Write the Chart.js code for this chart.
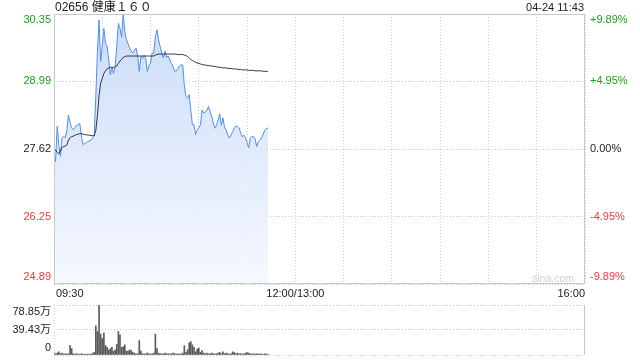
<!DOCTYPE html>
<html>
<head>
<meta charset="utf-8">
<script src="https://cdn.jsdelivr.net/npm/chart.js@4"></script>
<style>
  html,body{margin:0;padding:0;background:#fff;width:640px;height:360px;overflow:hidden;}
  canvas{position:absolute;left:0;}
  #main{top:0;}
  #vol{top:300px;}
</style>
</head>
<body>
<canvas id="main" width="640" height="300"></canvas>
<canvas id="vol" width="640" height="60"></canvas>
<script>
// ---- data ----
const titleText = '02656 健康１６０';
const dateText = '04-24 11:43';
const priceTicks = [30.35, 28.99, 27.62, 26.25, 24.89];
const pctTicks = ['+9.89%', '+4.95%', '0.00%', '-4.95%', '-9.89%'];
const xTickMinutes = [0, 150, 330];
const xTickLabels = ['09:30', '12:00/13:00', '16:00'];
const volTicks = [78.85, 39.43, 0];
const volTickLabels = ['78.85万', '39.43万', '0'];

const price = [
 27.55,27.37,28.08,27.70,27.47,27.85,27.87,27.85,28.00,28.31,
 28.15,28.05,28.01,28.05,28.10,28.11,28.14,27.90,27.71,27.73,
 27.75,27.77,27.78,27.80,27.84,27.90,28.70,29.60,30.23,29.39,
 29.70,30.06,29.76,29.70,29.42,29.12,29.28,29.15,29.29,29.70,
 30.16,30.06,29.89,30.35,30.00,29.83,29.75,29.66,29.60,29.56,
 29.62,29.66,29.50,29.19,29.49,29.45,29.52,29.45,29.19,29.30,
 29.36,29.56,29.56,29.90,30.03,29.83,29.69,29.56,29.46,29.60,
 29.48,29.50,29.42,29.35,29.29,29.19,29.20,29.25,29.30,29.32,
 29.32,28.90,28.68,28.65,28.72,28.40,28.11,28.11,27.91,28.00,
 28.05,28.11,28.41,28.35,28.37,28.40,28.48,28.38,28.28,28.15,
 28.04,28.10,28.20,28.33,28.10,28.25,28.05,28.00,27.90,27.84,
 27.90,27.97,28.05,28.08,28.08,28.05,27.95,27.87,27.90,27.85,
 27.75,27.64,27.84,27.87,27.87,27.82,27.67,27.77,27.80,27.85,
 27.92,28.00,28.04,28.04
];
const avgPrice = [
 27.62,27.60,27.55,27.52,27.58,27.65,27.67,27.68,27.70,27.80,
 27.85,27.87,27.88,27.90,27.91,27.92,27.93,27.93,27.92,27.91,
 27.91,27.90,27.90,27.89,27.89,27.89,28.00,28.30,28.70,28.95,
 29.05,29.15,29.20,29.24,29.26,29.27,29.27,29.27,29.28,29.30,
 29.35,29.40,29.43,29.47,29.49,29.50,29.50,29.50,29.50,29.50,
 29.50,29.50,29.50,29.50,29.50,29.50,29.50,29.50,29.50,29.50,
 29.50,29.50,29.50,29.52,29.53,29.54,29.54,29.54,29.54,29.54,
 29.54,29.54,29.54,29.54,29.54,29.54,29.54,29.53,29.53,29.53,
 29.53,29.52,29.51,29.49,29.46,29.43,29.41,29.39,29.37,29.36,
 29.35,29.34,29.33,29.32,29.32,29.31,29.31,29.30,29.30,29.29,
 29.29,29.28,29.28,29.27,29.27,29.26,29.26,29.26,29.25,29.25,
 29.25,29.24,29.24,29.24,29.23,29.23,29.23,29.22,29.22,29.22,
 29.22,29.21,29.21,29.21,29.21,29.20,29.20,29.20,29.20,29.20,
 29.19,29.19,29.19,29.19
];
const volume = [
 4,2,3,5,2,3,1.5,2,1.5,2,
 14.7,10,2,1.5,2,1.5,1,2,1.5,1,
 1.5,1,1.5,1,3,4,46,37,78.85,33,
 26,35,15,12,8,10,12,6,8,17,
 37,32,12,13,16,6,6,8,7,4,
 3,2,2,22.6,6,2,1.5,2,3,2,
 1.5,2,3,33,10,3,2,1.5,2,3,
 2,2,1.5,2,3,2,1.5,2,1.5,2,
 3,14.7,4,8,19,21,16,12,5,9.5,
 11,4,7,3,2,3,2,2,3,2,
 1.5,2,3,4,2,5,2,3,2,1.5,
 2,5,4,2,3,2,2,1.5,2,3,
 4,3,2,1.5,2,1.5,2,1.5,2,1.5,
 1,2,1.5,1
];

// ---- helpers ----
const GREEN = '#1ea01e', RED = '#f03c3c', DARK = '#222';
const FONT = '"Liberation Sans", Arial, "Noto Sans CJK SC", sans-serif';
function tickColor(i){ return i < 2 ? GREEN : (i === 2 ? DARK : RED); }
const minuteIdx = price.map((_, i) => i);

const mainText = {
  id: 'mainText',
  afterDraw(chart){
    const c = chart.ctx, a = chart.chartArea;
    const ys = chart.scales.y, xs = chart.scales.x;
    c.save();
    // frame
    c.strokeStyle = '#c8c8c8'; c.lineWidth = 1; c.setLineDash([]);
    c.strokeRect(Math.round(a.left)+0.5, Math.round(a.top)+0.5, Math.round(a.right-a.left)-1, Math.round(a.bottom-a.top)-1);
    // title & date
    c.font = '12px ' + FONT; c.fillStyle = DARK; c.textBaseline = 'middle';
    c.textAlign = 'left'; c.fillText(titleText, 55, 8);
    c.font = '11px ' + FONT; c.textAlign = 'right'; c.fillText(dateText, 584, 8);
    // y labels
    c.font = '11px ' + FONT;
    priceTicks.forEach((v, i) => {
      let y = ys.getPixelForValue(v);
      if (i === 0) y += 6; if (i === priceTicks.length - 1) y -= 7;
      c.fillStyle = tickColor(i);
      c.textAlign = 'right'; c.fillText(v.toFixed(2), 51, y);
      c.textAlign = 'left'; c.fillText(pctTicks[i], 590, y);
    });
    // x labels
    c.fillStyle = DARK;
    xTickMinutes.forEach((m, i) => {
      const x = xs.getPixelForValue(m);
      c.textAlign = i === 0 ? 'left' : (i === xTickMinutes.length - 1 ? 'right' : 'center');
      c.fillText(xTickLabels[i], i === 0 ? x + 2 : x, 294);
    });
    // watermark
    c.fillStyle = '#cfcfcf'; c.font = '10.5px ' + FONT; c.textAlign = 'right';
    c.fillText('sina.com', 574, 279);
    c.restore();
  }
};

new Chart(document.getElementById('main'), {
  type: 'line',
  data: {
    labels: minuteIdx,
    datasets: [
      {
        data: minuteIdx.map(i => ({x: i, y: price[i]})),
        borderColor: '#4f8ef0', borderWidth: 1, pointRadius: 0, tension: 0,
        fill: 'start',
        backgroundColor: (ctx) => {
          const a = ctx.chart.chartArea;
          if (!a) return 'rgba(210,225,250,0.8)';
          const g = ctx.chart.ctx.createLinearGradient(0, a.top, 0, a.bottom);
          g.addColorStop(0, 'rgba(200,218,248,0.95)');
          g.addColorStop(1, 'rgba(244,248,255,0.9)');
          return g;
        },
        order: 2
      },
      {
        data: minuteIdx.map(i => ({x: i, y: avgPrice[i]})),
        borderColor: '#333', borderWidth: 1, pointRadius: 0, tension: 0, fill: false,
        order: 1
      }
    ]
  },
  options: {
    responsive: false, animation: false, devicePixelRatio: 1,
    layout: {padding: {top: 14, left: 0, right: 0, bottom: 0}},
    plugins: {legend: {display: false}, tooltip: {enabled: false}},
    scales: {
      x: {
        type: 'linear', min: 0, max: 330,
        ticks: {display: false, stepSize: 30},
        grid: {color: '#cfcfcf', drawTicks: false},
        border: {display: false, dash: [1, 2]},
        afterFit(s){ s.height = 16; }
      },
      y: {
        position: 'left', min: 24.89, max: 30.35,
        afterBuildTicks(s){ s.ticks = priceTicks.map(v => ({value: v})); },
        ticks: {display: false},
        grid: {color: '#c4c4c4', drawTicks: false},
        border: {display: false, dash: [1, 2]},
        afterFit(s){ s.width = 54; }
      },
      y2: {
        position: 'right', min: 24.89, max: 30.35,
        ticks: {display: false}, grid: {display: false}, border: {display: false},
        afterFit(s){ s.width = 55; }
      }
    }
  },
  plugins: [mainText]
});

const volText = {
  id: 'volText',
  afterDraw(chart){
    const c = chart.ctx, a = chart.chartArea, ys = chart.scales.y;
    c.save();
    c.strokeStyle = '#c8c8c8'; c.lineWidth = 1;
    c.beginPath(); c.moveTo(Math.round(a.right)-0.5, a.top); c.lineTo(Math.round(a.right)-0.5, a.bottom); c.stroke();
    c.setLineDash([1, 2]);
    c.beginPath(); c.moveTo(Math.round(a.left)+0.5, a.top); c.lineTo(Math.round(a.left)+0.5, a.bottom); c.stroke();
    c.setLineDash([]);
    c.font = '11px ' + FONT; c.fillStyle = DARK; c.textAlign = 'right'; c.textBaseline = 'middle';
    volTicks.forEach((v, i) => {
      let y = ys.getPixelForValue(v);
      if (i === 0) y += 7; if (i === volTicks.length - 1) y -= 7;
      c.fillText(volTickLabels[i], 51, y);
    });
    c.restore();
  }
};

new Chart(document.getElementById('vol'), {
  type: 'bar',
  data: {
    datasets: [{
      data: minuteIdx.map(i => ({x: i, y: volume[i]})),
      backgroundColor: '#5a5a5a', barThickness: 1, borderWidth: 0
    }]
  },
  options: {
    responsive: false, animation: false, devicePixelRatio: 1,
    layout: {padding: {top: 5, left: 0, right: 55, bottom: 0}},
    plugins: {legend: {display: false}, tooltip: {enabled: false}},
    scales: {
      x: {
        type: 'linear', min: 0, max: 330, offset: false,
        ticks: {display: false}, grid: {display: false}, border: {display: false},
        afterFit(s){ s.height = 5; }
      },
      y: {
        min: 0, max: 78.85,
        afterBuildTicks(s){ s.ticks = volTicks.map(v => ({value: v})); },
        ticks: {display: false},
        grid: {color: '#c4c4c4', drawTicks: false},
        border: {display: false, dash: [1, 2]},
        afterFit(s){ s.width = 54; }
      }
    }
  },
  plugins: [volText]
});
</script>
</body>
</html>
